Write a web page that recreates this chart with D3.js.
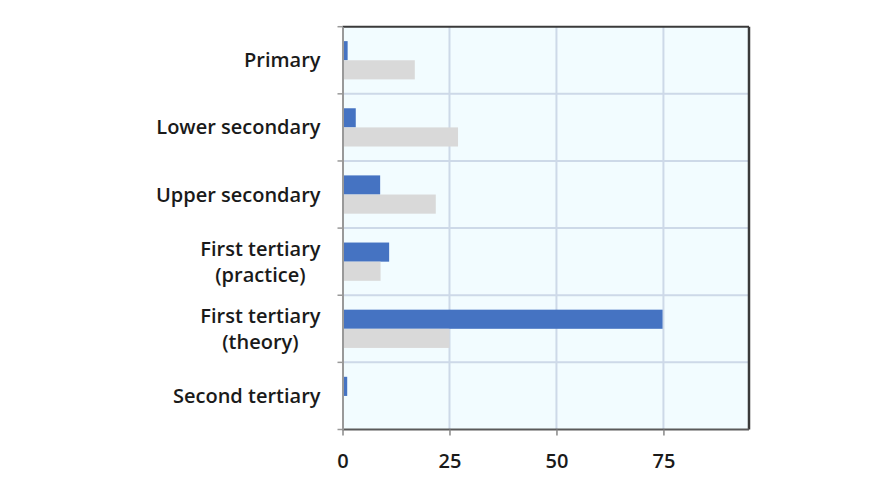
<!DOCTYPE html>
<html><head><meta charset="utf-8">
<script src="https://cdn.jsdelivr.net/npm/d3@7"></script>
<style>body{margin:0;background:#fff}svg{display:block}</style>
</head><body><svg id="c" width="880" height="495"></svg>
<script>
const categories = ["Primary","Lower secondary","Upper secondary","First tertiary\n(practice)","First tertiary\n(theory)","Second tertiary"];
const seriesBlue = [1.2, 3.1, 8.8, 10.9, 74.8, 1.1];
const seriesGray = [16.9, 27, 21.8, 8.9, 25, 0];
const xTicks = [0, 25, 50, 75];

const svg = d3.select("#c");
const L = 342.5, R = 749, T = 26.7, B = 429.5;
const x = d3.scaleLinear().domain([0, 95]).range([L, R]);
const y = d3.scaleBand().domain(categories).range([T, B]).paddingInner(0.43).paddingOuter(0.215);
const yLine = d3.scaleBand().domain(categories).range([T, B]);
const font = "'Open Sans', Lato, sans-serif";
const fs = 20, fw = 600;

svg.append("rect").attr("x", L).attr("y", T).attr("width", R - L).attr("height", B - T).attr("fill", "#f2fcff");

// gridlines
svg.append("g").selectAll("line").data(xTicks.slice(1)).join("line")
  .attr("x1", d => x(d)).attr("x2", d => x(d)).attr("y1", T).attr("y2", B)
  .attr("stroke", "#cdd9e8").attr("stroke-width", 2);
svg.append("g").selectAll("line").data(categories.slice(1)).join("line")
  .attr("x1", L).attr("x2", R).attr("y1", d => yLine(d)).attr("y2", d => yLine(d))
  .attr("stroke", "#cdd9e8").attr("stroke-width", 2);

// bars
const hb = y.bandwidth() / 2;
svg.append("g").selectAll("rect").data(categories).join("rect")
  .attr("x", x(0)).attr("y", d => y(d)).attr("height", hb)
  .attr("width", (d, i) => x(seriesBlue[i]) - x(0)).attr("fill", "#4573c2");
svg.append("g").selectAll("rect").data(categories).join("rect")
  .attr("x", x(0)).attr("y", d => y(d) + hb).attr("height", hb)
  .attr("width", (d, i) => x(seriesGray[i]) - x(0)).attr("fill", "#d9d9d9");

// borders
svg.append("line").attr("x1", L).attr("x2", R).attr("y1", T).attr("y2", T).attr("stroke", "#3a3a3a").attr("stroke-width", 2);
svg.append("line").attr("x1", R).attr("x2", R).attr("y1", T).attr("y2", B).attr("stroke", "#3a3a3a").attr("stroke-width", 2.5);
svg.append("line").attr("x1", L).attr("x2", R).attr("y1", B).attr("y2", B).attr("stroke", "#5a5a5a").attr("stroke-width", 2);

// y axis
const yAxis = svg.append("g").attr("transform", `translate(${L},0)`)
  .call(d3.axisLeft(yLine).tickSize(0).tickFormat(""));
yAxis.select(".domain").attr("stroke", "#999").attr("stroke-width", 2);
svg.append("g").selectAll("line").data(categories.concat(["__end"])).join("line")
  .attr("x1", L - 5).attr("x2", L).attr("y1", (d, i) => i < categories.length ? yLine(d) : B).attr("y2", (d, i) => i < categories.length ? yLine(d) : B)
  .attr("stroke", "#999").attr("stroke-width", 1.5);

const labelRight = L - 22;
svg.append("g").selectAll("text").data(categories).join("text")
  .attr("font-family", font).attr("font-size", fs).attr("font-weight", fw).attr("fill", "#1a1a1a")
  .attr("text-anchor", "middle")
  .each(function(d) {
    const lines = d.split("\n");
    const t = d3.select(this);
    const cy = yLine(d) + yLine.bandwidth() / 2;
    const spans = lines.map((ln, j) => t.append("tspan")
      .attr("y", cy + (j - (lines.length - 1) / 2) * 26)
      .attr("dy", "0.35em").text(ln));
    const maxW = d3.max(spans, s => s.node().getComputedTextLength());
    spans.forEach(s => s.attr("x", labelRight - maxW / 2));
  });

// x axis
const xAxis = svg.append("g").attr("transform", `translate(0,${B})`)
  .call(d3.axisBottom(x).tickValues(xTicks).tickSize(6).tickSizeOuter(0));
xAxis.select(".domain").remove();
xAxis.selectAll("line").attr("stroke", "#888").attr("stroke-width", 1.5);
xAxis.selectAll("text").attr("font-family", font).attr("font-size", fs).attr("font-weight", fw).attr("fill", "#1a1a1a").attr("dy", "1.45em");
</script></body></html>
